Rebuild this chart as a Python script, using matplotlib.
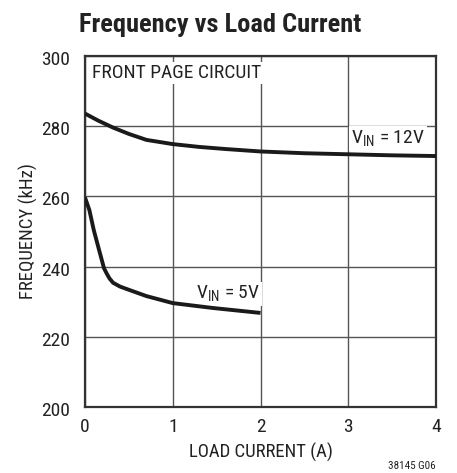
import matplotlib
matplotlib.use("Agg")
import matplotlib.pyplot as plt
import matplotlib.transforms as transforms
from matplotlib import font_manager

# --- data
current12 = [0.0, 0.15, 0.32, 0.5, 0.7, 1.0, 1.3, 1.6, 2.0, 2.5, 3.0, 3.5, 4.0]
freq12 = [283.6, 281.6, 279.6, 277.8, 276.1, 274.9, 274.1, 273.5, 272.8, 272.3, 272.0, 271.7, 271.5]

current5 = [0.0, 0.05, 0.1, 0.15, 0.217, 0.25, 0.28, 0.32, 0.4, 0.51, 0.7, 1.0, 1.46, 2.0]
freq5 = [259.7, 256.1, 250.4, 245.7, 239.5, 237.9, 236.6, 235.4, 234.3, 233.3, 231.6, 229.6, 228.2, 226.8]

xTicks = [0, 1, 2, 3, 4]
yTicks = [200, 220, 240, 260, 280, 300]

# condensed Helvetica look-alike, whichever is installed
names = set(f.name for f in font_manager.fontManager.ttflist)
family = 'Liberation Sans'
for cand in ['Liberation Sans Narrow', 'Arial Narrow', 'Nimbus Sans Narrow',
             'Roboto Condensed', 'Archivo Narrow', 'PT Sans Narrow', 'Fira Sans Condensed']:
    if cand in names:
        family = cand
        break
plt.rcParams['font.family'] = [family, 'DejaVu Sans']
plt.rcParams['mathtext.fontset'] = 'custom'
plt.rcParams['mathtext.rm'] = family

fig = plt.figure(figsize=(4.57, 4.73), dpi=100)
ax = fig.add_axes([85/457, 1 - 407/473, 351/457, 351/473])

ax.set_xlim(0, 4)
ax.set_ylim(200, 300)
ax.set_xticks(xTicks)
ax.set_yticks(yTicks)
ax.tick_params(length=0, labelsize=14, colors='#222222')
ax.tick_params(axis='x', pad=8)
ax.tick_params(axis='y', pad=11)
# y labels sit a touch below their gridline
shift = transforms.ScaledTranslation(0, -2/100., fig.dpi_scale_trans)
for lbl in ax.get_yticklabels():
    lbl.set_transform(lbl.get_transform() + shift)
ax.grid(color='#555555', linewidth=1.0)
ax.set_axisbelow(True)
for s in ax.spines.values():
    s.set_linewidth(1.6)
    s.set_color('#333333')

ax.plot(current12, freq12, color='#1a1a1a', linewidth=2.8, zorder=5, solid_capstyle='butt')
ax.plot(current5, freq5, color='#1a1a1a', linewidth=2.8, zorder=5, solid_capstyle='butt')

box = dict(facecolor='white', edgecolor='none', pad=1.5)
ax.text(0.08, 297.8, 'FRONT PAGE CIRCUIT', fontsize=14, va='top', ha='left',
        color='#222222', bbox=box, zorder=4)
ax.text(3.87, 273.6, r'V$_{\mathregular{IN}}$ = 12V', fontsize=14, va='bottom', ha='right',
        color='#222222', bbox=box, zorder=4)
ax.text(1.99, 229.3, r'V$_{\mathregular{IN}}$ = 5V', fontsize=14, va='bottom', ha='right',
        color='#222222', bbox=box, zorder=4)

ax.set_xlabel('LOAD CURRENT (A)', fontsize=13.5, color='#222222', labelpad=5)
ax.set_ylabel('FREQUENCY (kHz)', fontsize=13.5, color='#222222', labelpad=2)

fig.text(220/457, 1 - 25/473, 'Frequency vs Load Current', fontsize=19, fontweight='bold',
         ha='center', va='center', color='#222222')
fig.text(436/457, 1 - 466/473, '38145 G06', fontsize=8, ha='right', va='center', color='#222222')

plt.savefig('out.png', dpi=100)
